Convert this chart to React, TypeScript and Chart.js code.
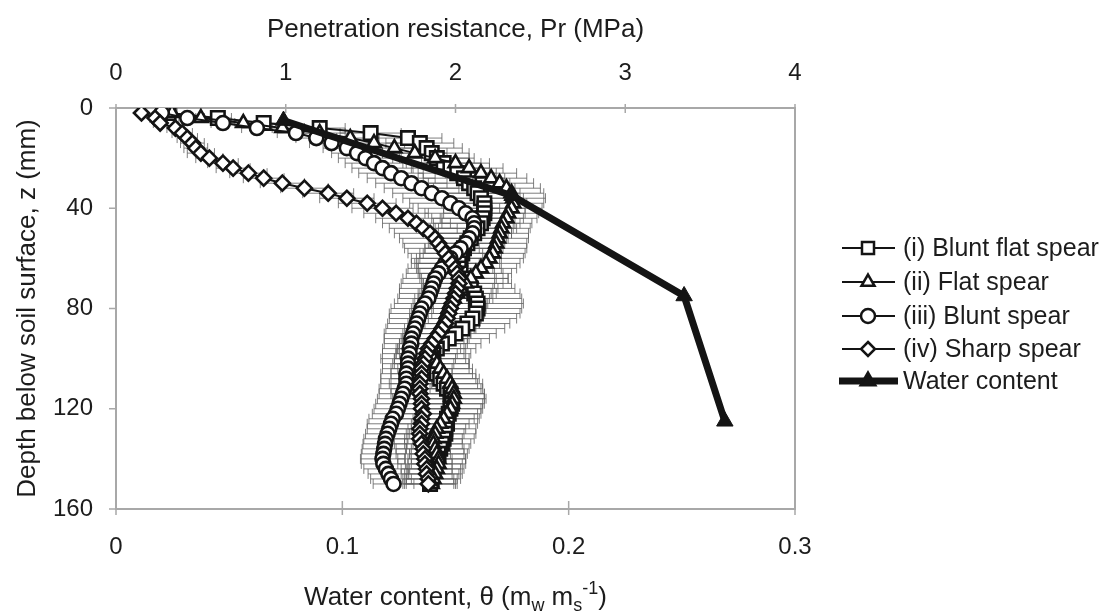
import React, { useEffect, useRef } from 'react';
import { Chart, registerables } from 'chart.js';

Chart.register(...registerables);

// Depth below soil surface (mm) for the penetrometer profiles
const depths = [
  2, 4, 6, 8, 10, 12, 14, 16, 18, 20,
  22, 24, 26, 28, 30, 32, 34, 36, 38, 40,
  42, 44, 46, 48, 50, 52, 54, 56, 58, 60,
  62, 64, 66, 68, 70, 72, 74, 76, 78, 80,
  82, 84, 86, 88, 90, 92, 94, 96, 98, 100,
  102, 104, 106, 108, 110, 112, 114, 116, 118, 120,
  122, 124, 126, 128, 130, 132, 134, 136, 138, 140,
  142, 144, 146, 148, 150,
];

// Penetration resistance, Pr (MPa)
const bluntFlatSpear = [
  0.31, 0.60, 0.87, 1.20, 1.50, 1.72, 1.79, 1.83, 1.86, 1.89,
  1.93, 1.97, 2.01, 2.05, 2.08, 2.11, 2.13, 2.15, 2.17, 2.17,
  2.17, 2.16, 2.15, 2.13, 2.11, 2.09, 2.07, 2.05, 2.04, 2.03,
  2.02, 2.02, 2.03, 2.05, 2.07, 2.09, 2.11, 2.12, 2.13, 2.13,
  2.12, 2.10, 2.07, 2.04, 2.00, 1.96, 1.92, 1.89, 1.87, 1.86,
  1.86, 1.87, 1.89, 1.91, 1.93, 1.95, 1.97, 1.98, 1.98, 1.97,
  1.96, 1.95, 1.95, 1.94, 1.94, 1.93, 1.92, 1.91, 1.90, 1.89,
  1.88, 1.87, 1.86, 1.86, 1.85,
];
const flatSpear = [
  0.33, 0.50, 0.75, 0.98, 1.20, 1.38, 1.52, 1.64, 1.76, 1.88,
  2.00, 2.08, 2.15, 2.21, 2.26, 2.30, 2.33, 2.34, 2.34, 2.33,
  2.31, 2.30, 2.28, 2.27, 2.26, 2.25, 2.24, 2.23, 2.22, 2.20,
  2.18, 2.15, 2.12, 2.09, 2.06, 2.03, 2.01, 1.99, 1.97, 1.96,
  1.95, 1.94, 1.93, 1.91, 1.89, 1.88, 1.87, 1.86, 1.86, 1.87,
  1.89, 1.91, 1.93, 1.95, 1.97, 1.98, 1.99, 1.99, 1.98, 1.97,
  1.95, 1.93, 1.91, 1.89, 1.88, 1.87, 1.87, 1.88, 1.89, 1.90,
  1.90, 1.89, 1.88, 1.87, 1.86,
];
const bluntSpear = [
  0.27, 0.42, 0.63, 0.83, 1.06, 1.18, 1.27, 1.36, 1.42, 1.47,
  1.52, 1.57, 1.62, 1.68, 1.74, 1.80, 1.86, 1.92, 1.97, 2.02,
  2.06, 2.10, 2.11, 2.11, 2.10, 2.08, 2.06, 2.03, 2.00, 1.97,
  1.94, 1.92, 1.90, 1.88, 1.87, 1.86, 1.85, 1.84, 1.82, 1.80,
  1.79, 1.78, 1.77, 1.76, 1.75, 1.74, 1.74, 1.73, 1.73, 1.72,
  1.72, 1.72, 1.71, 1.71, 1.71, 1.70, 1.69, 1.68, 1.67, 1.66,
  1.65, 1.63, 1.62, 1.61, 1.60, 1.59, 1.585, 1.58, 1.575, 1.57,
  1.575, 1.59, 1.605, 1.62, 1.635,
];
const sharpSpear = [
  0.15, 0.23, 0.26, 0.35, 0.39, 0.42, 0.45, 0.47, 0.50, 0.55,
  0.63, 0.69, 0.78, 0.87, 0.98, 1.11, 1.25, 1.36, 1.48, 1.57,
  1.65, 1.72, 1.77, 1.81, 1.85, 1.88, 1.90, 1.92, 1.94, 1.96,
  1.98, 2.00, 2.01, 2.02, 2.02, 2.01, 2.00, 1.99, 1.98, 1.97,
  1.96, 1.95, 1.94, 1.92, 1.90, 1.88, 1.86, 1.84, 1.83, 1.82,
  1.81, 1.80, 1.80, 1.80, 1.79, 1.79, 1.79, 1.80, 1.80, 1.80,
  1.81, 1.80, 1.80, 1.79, 1.79, 1.79, 1.80, 1.81, 1.81, 1.82,
  1.82, 1.83, 1.83, 1.84, 1.84,
];

// Standard deviations of Pr (MPa), drawn as horizontal error bars
const bluntFlatSpearSd = [
  0.04, 0.08, 0.12, 0.15, 0.18, 0.20, 0.20, 0.21, 0.22, 0.22,
  0.22, 0.23, 0.23, 0.24, 0.24, 0.24, 0.25, 0.25, 0.25, 0.24,
  0.24, 0.24, 0.23, 0.23, 0.22, 0.22, 0.22, 0.23, 0.23, 0.24,
  0.24, 0.25, 0.25, 0.26, 0.26, 0.26, 0.27, 0.27, 0.27, 0.26,
  0.26, 0.26, 0.25, 0.25, 0.24, 0.24, 0.23, 0.23, 0.22, 0.22,
  0.22, 0.21, 0.21, 0.21, 0.20, 0.20, 0.20, 0.20, 0.19, 0.19,
  0.19, 0.19, 0.18, 0.18, 0.18, 0.18, 0.17, 0.17, 0.17, 0.17,
  0.16, 0.16, 0.16, 0.15, 0.15,
];
const flatSpearSd = [
  0.03, 0.07, 0.10, 0.13, 0.15, 0.17, 0.18, 0.19, 0.19, 0.20,
  0.20, 0.20, 0.21, 0.21, 0.20, 0.20, 0.19, 0.19, 0.18, 0.18,
  0.18, 0.18, 0.17, 0.17, 0.17, 0.18, 0.18, 0.19, 0.19, 0.20,
  0.20, 0.21, 0.21, 0.22, 0.22, 0.22, 0.23, 0.23, 0.22, 0.22,
  0.22, 0.21, 0.21, 0.21, 0.20, 0.20, 0.20, 0.20, 0.19, 0.19,
  0.19, 0.19, 0.19, 0.19, 0.19, 0.18, 0.18, 0.18, 0.18, 0.18,
  0.18, 0.18, 0.17, 0.17, 0.17, 0.17, 0.17, 0.17, 0.16, 0.16,
  0.16, 0.16, 0.16, 0.16, 0.15,
];
const bluntSpearSd = [
  0.03, 0.05, 0.07, 0.09, 0.11, 0.12, 0.13, 0.14, 0.15, 0.16,
  0.17, 0.18, 0.19, 0.20, 0.21, 0.22, 0.23, 0.23, 0.24, 0.24,
  0.24, 0.24, 0.24, 0.23, 0.23, 0.22, 0.22, 0.21, 0.21, 0.20,
  0.20, 0.20, 0.19, 0.19, 0.19, 0.19, 0.18, 0.18, 0.18, 0.18,
  0.18, 0.17, 0.17, 0.17, 0.17, 0.16, 0.16, 0.16, 0.16, 0.16,
  0.15, 0.15, 0.15, 0.15, 0.15, 0.15, 0.14, 0.14, 0.14, 0.14,
  0.14, 0.14, 0.14, 0.13, 0.13, 0.13, 0.13, 0.13, 0.13, 0.13,
  0.13, 0.13, 0.12, 0.12, 0.12,
];
const sharpSpearSd = [
  0.02, 0.03, 0.04, 0.05, 0.06, 0.06, 0.07, 0.07, 0.08, 0.08,
  0.09, 0.10, 0.11, 0.12, 0.13, 0.14, 0.15, 0.16, 0.17, 0.18,
  0.19, 0.19, 0.20, 0.20, 0.21, 0.21, 0.21, 0.22, 0.22, 0.22,
  0.22, 0.22, 0.22, 0.22, 0.21, 0.21, 0.21, 0.21, 0.20, 0.20,
  0.20, 0.20, 0.20, 0.19, 0.19, 0.19, 0.19, 0.19, 0.18, 0.18,
  0.18, 0.18, 0.18, 0.18, 0.18, 0.17, 0.17, 0.17, 0.17, 0.17,
  0.17, 0.17, 0.17, 0.16, 0.16, 0.16, 0.16, 0.16, 0.16, 0.16,
  0.16, 0.15, 0.15, 0.15, 0.15,
];

// Water content, theta (mw ms-1), at four depths (mm)
const waterDepths = [5, 35, 75, 125];
const waterContent = [0.074, 0.175, 0.251, 0.269];

const seriesLabels = ['(i) Blunt flat spear', '(ii) Flat spear', '(iii) Blunt spear', '(iv) Sharp spear', 'Water content'];

const topTicks = [0, 1, 2, 3, 4];
const bottomTicks = [0, 0.1, 0.2, 0.3];
const depthTicks = [0, 40, 80, 120, 160];

const FONT = '"Liberation Sans", Arial, Helvetica, sans-serif';
const TEXT = '#1c1c1c';
const AXIS = '#a8a8a8';
const INK = '#141414';

function drawMarker(ctx: CanvasRenderingContext2D, style: string, x: number, y: number, r: number) {
  ctx.beginPath();
  if (style === 'rect') {
    const s = r * Math.SQRT1_2;
    ctx.rect(x - s, y - s, 2 * s, 2 * s);
  } else if (style === 'circle') {
    ctx.arc(x, y, r, 0, Math.PI * 2);
  } else if (style === 'rectRot') {
    ctx.moveTo(x, y - r);
    ctx.lineTo(x + r, y);
    ctx.lineTo(x, y + r);
    ctx.lineTo(x - r, y);
    ctx.closePath();
  } else if (style === 'triangle') {
    ctx.moveTo(x, y - r);
    ctx.lineTo(x + r * Math.cos(Math.PI / 6), y + r / 2);
    ctx.lineTo(x - r * Math.cos(Math.PI / 6), y + r / 2);
    ctx.closePath();
  }
}

const errorBarPlugin = {
  id: 'errorBars',
  beforeDatasetsDraw(chart: any) {
    const { ctx, chartArea: a } = chart;
    ctx.save();
    ctx.beginPath();
    ctx.rect(a.left, a.top, a.right - a.left, a.bottom - a.top);
    ctx.clip();
    ctx.strokeStyle = 'rgba(95,95,95,0.8)';
    ctx.lineWidth = 1;
    chart.data.datasets.forEach((ds: any) => {
      const errs: number[] | undefined = ds.errorBars;
      if (!errs) return;
      const xs = chart.scales[ds.xAxisID];
      const ys = chart.scales[ds.yAxisID];
      ds.data.forEach((p: any, i: number) => {
        const y = ys.getPixelForValue(p.y);
        const x1 = xs.getPixelForValue(p.x - errs[i]);
        const x2 = xs.getPixelForValue(p.x + errs[i]);
        ctx.beginPath();
        ctx.moveTo(x1, y);
        ctx.lineTo(x2, y);
        ctx.moveTo(x1, y - 5);
        ctx.lineTo(x1, y + 5);
        ctx.moveTo(x2, y - 5);
        ctx.lineTo(x2, y + 5);
        ctx.stroke();
      });
    });
    ctx.restore();
  },
};

const frameAndTicksPlugin = {
  id: 'frameTicks',
  beforeDatasetsDraw(chart: any) {
    const { ctx, chartArea: a, scales } = chart;
    ctx.save();
    ctx.strokeStyle = AXIS;
    ctx.lineWidth = 2;
    ctx.beginPath();
    ctx.moveTo(a.right, a.top);
    ctx.lineTo(a.right, a.bottom);
    ctx.stroke();
    ctx.lineWidth = 1.5;
    ctx.beginPath();
    bottomTicks.forEach((v) => {
      const x = scales.x.getPixelForValue(v);
      ctx.moveTo(x, a.bottom - 8);
      ctx.lineTo(x, a.bottom + 6);
    });
    topTicks.forEach((v) => {
      const x = scales.xTop.getPixelForValue(v);
      ctx.moveTo(x, a.top - 4);
      ctx.lineTo(x, a.top + 5);
    });
    depthTicks.forEach((v) => {
      const y = scales.y.getPixelForValue(v);
      ctx.moveTo(a.left - 7, y);
      ctx.lineTo(a.left, y);
    });
    ctx.stroke();
    ctx.restore();
  },
};

const bottomTitlePlugin = {
  id: 'bottomTitle',
  afterDraw(chart: any) {
    const { ctx, chartArea: a } = chart;
    const segs = [
      { t: 'Water content, \u03B8 (m', size: 26, dy: 0 },
      { t: 'w', size: 18, dy: 6 },
      { t: ' m', size: 26, dy: 0 },
      { t: 's', size: 18, dy: 6 },
      { t: '-1', size: 18, dy: -11 },
      { t: ')', size: 26, dy: 0 },
    ];
    ctx.save();
    ctx.fillStyle = TEXT;
    ctx.textBaseline = 'alphabetic';
    ctx.textAlign = 'left';
    let total = 0;
    const widths = segs.map((s) => {
      ctx.font = `${s.size}px ${FONT}`;
      const w = ctx.measureText(s.t).width;
      total += w;
      return w;
    });
    let x = (a.left + a.right) / 2 - total / 2;
    const base = 605;
    segs.forEach((s, i) => {
      ctx.font = `${s.size}px ${FONT}`;
      ctx.fillText(s.t, x, base + s.dy);
      x += widths[i];
    });
    ctx.restore();
  },
};

const legendPlugin = {
  id: 'customLegend',
  afterDraw(chart: any) {
    const { ctx } = chart;
    const rows = [248, 282, 316, 349, 381];
    const styles = ['rect', 'triangle', 'circle', 'rectRot', 'triangle'];
    const radii = [8.5, 7.5, 7, 7, 8.5];
    ctx.save();
    ctx.font = `25px ${FONT}`;
    ctx.textBaseline = 'middle';
    ctx.textAlign = 'left';
    seriesLabels.forEach((label, i) => {
      const y = rows[i];
      const water = i === 4;
      ctx.strokeStyle = INK;
      ctx.lineWidth = water ? 7 : 2.2;
      ctx.beginPath();
      ctx.moveTo(water ? 839 : 842, y);
      ctx.lineTo(water ? 898 : 895, y);
      ctx.stroke();
      drawMarker(ctx, styles[i], 868, y, radii[i]);
      ctx.fillStyle = water ? INK : '#ffffff';
      ctx.fill();
      ctx.lineWidth = 2.5;
      ctx.stroke();
      ctx.fillStyle = TEXT;
      ctx.fillText(label, 903, y + 1);
    });
    ctx.restore();
  },
};

export default function App() {
  const ref = useRef<HTMLCanvasElement>(null);

  useEffect(() => {
    const canvas = ref.current;
    if (!canvas) return;

    const profiles = [
      { values: bluntFlatSpear, sd: bluntFlatSpearSd, style: 'rect', radius: 9.5 },
      { values: flatSpear, sd: flatSpearSd, style: 'triangle', radius: 8 },
      { values: bluntSpear, sd: bluntSpearSd, style: 'circle', radius: 7 },
      { values: sharpSpear, sd: sharpSpearSd, style: 'rectRot', radius: 7.5 },
    ];

    const datasets: any[] = profiles.map((p, k) => ({
      label: seriesLabels[k],
      data: depths.map((d, i) => ({ x: p.values[i], y: d })),
      xAxisID: 'xTop',
      yAxisID: 'y',
      showLine: true,
      borderColor: INK,
      borderWidth: 2,
      pointStyle: p.style,
      pointRadius: p.radius,
      pointBorderWidth: 2.6,
      pointBorderColor: INK,
      pointBackgroundColor: '#ffffff',
      order: 4 - k,
      errorBars: p.sd,
    }));

    datasets.push({
      label: seriesLabels[4],
      data: waterDepths.map((d, i) => ({ x: waterContent[i], y: d })),
      xAxisID: 'x',
      yAxisID: 'y',
      showLine: true,
      borderColor: INK,
      borderWidth: 7,
      pointStyle: 'triangle',
      pointRadius: 9.5,
      pointBorderWidth: 1,
      pointBorderColor: INK,
      pointBackgroundColor: INK,
      order: 0,
    });

    const tickFont = { family: FONT, size: 24 };
    const titleFont = { family: FONT, size: 26 };

    const chart = new Chart(canvas, {
      type: 'scatter',
      data: { datasets },
      plugins: [errorBarPlugin, frameAndTicksPlugin, bottomTitlePlugin, legendPlugin],
      options: {
        animation: false,
        responsive: false,
        maintainAspectRatio: false,
        layout: { padding: { left: 0, right: 321, top: 0, bottom: 0 } },
        plugins: {
          legend: { display: false },
          tooltip: { enabled: false },
        },
        scales: {
          xTop: {
            type: 'linear',
            position: 'top',
            min: 0,
            max: 4,
            afterBuildTicks: (s: any) => { s.ticks = topTicks.map((v) => ({ value: v })); },
            ticks: { font: tickFont, color: TEXT, padding: 20, callback: (v: any) => String(v) },
            grid: { display: true, drawOnChartArea: false, drawTicks: false },
            border: { display: true, color: AXIS, width: 2 },
            title: { display: true, text: 'Penetration resistance, Pr (MPa)', font: titleFont, color: TEXT, padding: { top: 14, bottom: 0 } },
            afterFit: (s: any) => { s.height = 108; },
          },
          x: {
            type: 'linear',
            position: 'bottom',
            min: 0,
            max: 0.3,
            afterBuildTicks: (s: any) => { s.ticks = bottomTicks.map((v) => ({ value: v })); },
            ticks: { font: tickFont, color: TEXT, padding: 24, callback: (v: any) => (v === 0 ? '0' : String(Math.round(v * 10) / 10)) },
            grid: { display: true, drawOnChartArea: false, drawTicks: false },
            border: { display: true, color: AXIS, width: 2 },
            afterFit: (s: any) => { s.height = 102; },
          },
          y: {
            type: 'linear',
            position: 'left',
            reverse: true,
            min: 0,
            max: 160,
            afterBuildTicks: (s: any) => { s.ticks = depthTicks.map((v) => ({ value: v })); },
            ticks: { font: tickFont, color: TEXT, padding: 23, callback: (v: any) => String(v) },
            grid: { display: true, drawOnChartArea: false, drawTicks: false },
            border: { display: true, color: AXIS, width: 2 },
            title: { display: true, text: 'Depth below soil surface, z (mm)', font: titleFont, color: TEXT, padding: { top: 12, bottom: 0 } },
            afterFit: (s: any) => { s.width = 116; },
          },
        },
      } as any,
    });

    return () => chart.destroy();
  }, []);

  return (
    <div style={{ position: 'fixed', left: 0, top: 0, width: 1116, height: 611, background: '#fff' }}>
      <canvas ref={ref} width={1116} height={611} style={{ display: 'block', width: 1116, height: 611 }} />
    </div>
  );
}
